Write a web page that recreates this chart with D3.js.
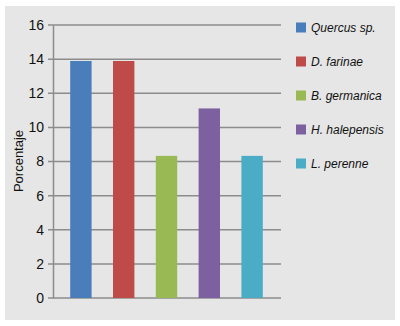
<!DOCTYPE html>
<html>
<head>
<meta charset="utf-8">
<script src="https://cdn.jsdelivr.net/npm/d3@7"></script>
<style>
  body { margin: 0; background: #fff; }
  svg { display: block; font-family: "Liberation Sans", Arial, sans-serif; }
</style>
</head>
<body>
<div id="chart"></div>
<script>
// data (percentages)
const species = ["Quercus sp.", "D. farinae", "B. germanica", "H. halepensis", "L. perenne"];
const porcentaje = [13.89, 13.89, 8.33, 11.11, 8.33];
const colours = ["#4a7ebb", "#be4b48", "#98b954", "#7d60a0", "#4bacc6"];
const yTicks = [0, 2, 4, 6, 8, 10, 12, 14, 16];

const width = 400, height = 326;
const plotLeft = 53, plotRight = 281, plotTop = 25, plotBottom = 298;

const svg = d3.select("#chart").append("svg")
    .attr("width", width)
    .attr("height", height);

// grey panel
svg.append("rect")
    .attr("x", 5).attr("y", 6)
    .attr("width", 390).attr("height", 314)
    .attr("fill", "#e6e6e6");

const y = d3.scaleLinear().domain([0, 16]).range([plotBottom, plotTop]);
const x = d3.scaleBand().domain(species)
    .range([59.5, 273.5])
    .paddingInner(0.5)
    .paddingOuter(0.25);

// gridlines
svg.append("g")
    .selectAll("line")
    .data(yTicks)
    .join("line")
    .attr("x1", plotLeft - 5).attr("x2", plotRight)
    .attr("y1", d => y(d)).attr("y2", d => y(d))
    .attr("stroke", "#8c8c8c")
    .attr("stroke-width", 1.5);

// y axis
const yAxis = svg.append("g")
    .attr("transform", "translate(" + plotLeft + ",0)")
    .call(d3.axisLeft(y).tickValues(yTicks).tickSize(0).tickPadding(9));
yAxis.select(".domain").attr("stroke", "#8c8c8c").attr("stroke-width", 1.5);
yAxis.selectAll("text")
    .attr("font-size", 14)
    .attr("font-family", "Liberation Sans, Arial, sans-serif")
    .attr("fill", "#111");

svg.append("text")
    .attr("transform", "translate(23,161) rotate(-90)")
    .attr("text-anchor", "middle")
    .attr("font-size", 13)
    .attr("fill", "#111")
    .text("Porcentaje");

// bars
svg.append("g")
    .selectAll("rect")
    .data(species)
    .join("rect")
    .attr("x", d => x(d))
    .attr("width", x.bandwidth())
    .attr("y", (d, i) => y(porcentaje[i]))
    .attr("height", (d, i) => plotBottom - y(porcentaje[i]))
    .attr("fill", (d, i) => colours[i]);

// legend
const legend = svg.append("g")
    .selectAll("g")
    .data(species)
    .join("g")
    .attr("transform", (d, i) => "translate(296," + (27.5 + i * 34) + ")");

legend.append("rect")
    .attr("x", 0).attr("y", -5)
    .attr("width", 10).attr("height", 10)
    .attr("fill", (d, i) => colours[i]);

legend.append("text")
    .attr("x", 15)
    .attr("dy", "0.36em")
    .attr("font-size", 12)
    .attr("font-style", "italic")
    .attr("fill", "#111")
    .text(d => d);
</script>
</body>
</html>
